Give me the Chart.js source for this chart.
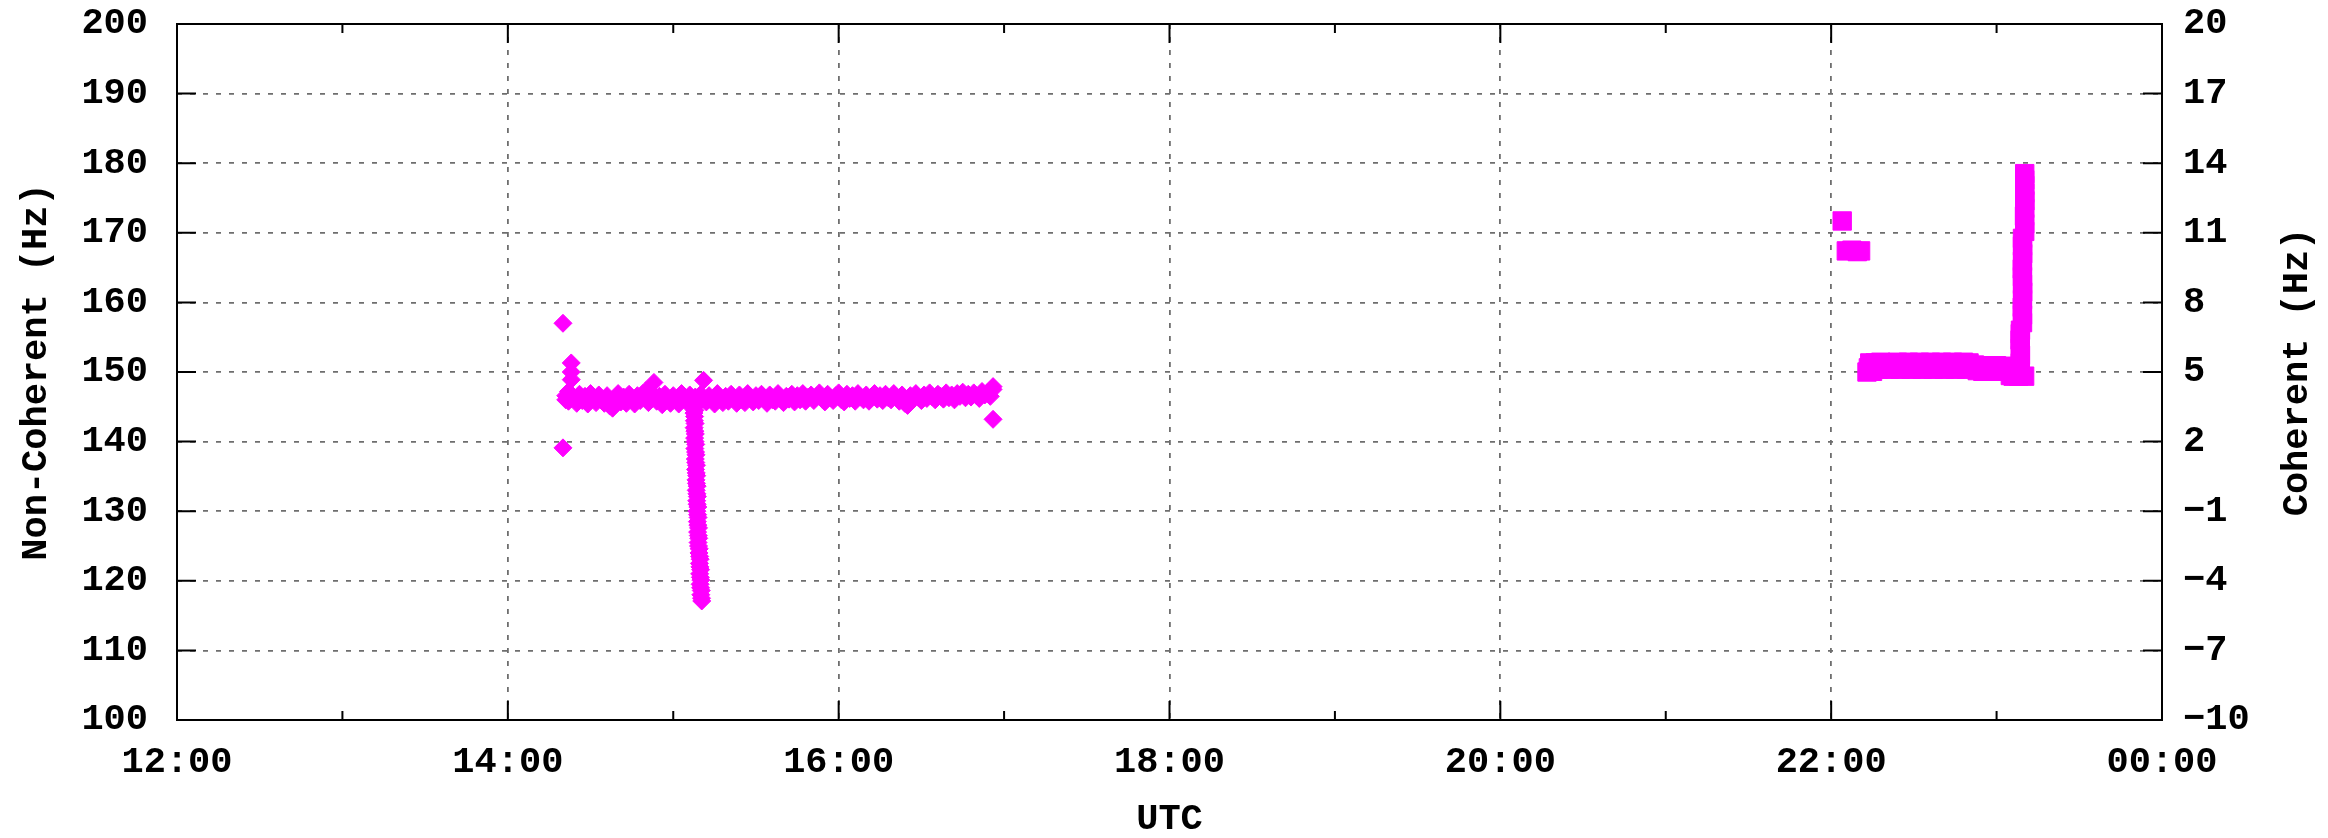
<!DOCTYPE html>
<html>
<head>
<meta charset="utf-8">
<title>Non-Coherent / Coherent Doppler</title>
<script src="https://cdn.jsdelivr.net/npm/chart.js@4.4.1/dist/chart.umd.min.js"></script>
<style>
  html, body { margin: 0; padding: 0; background: #ffffff; }
  canvas { display: block; }
</style>
</head>
<body>
<canvas id="doppler" width="2328" height="838"></canvas>
<script>
    "use strict";

    // Pass 1 (afternoon): UTC times and frequency in Hz
    var passOneTime = [
        "14:20", "14:20", "14:21", "14:21", "14:22", "14:22", "14:23", "14:23", "14:23", "14:23",
        "14:53", "15:11", "16:56", "16:56",
        "14:24", "14:25", "14:26", "14:27", "14:28", "14:29", "14:30", "14:31", "14:32", "14:33",
        "14:34", "14:35", "14:36", "14:37", "14:38", "14:39", "14:40", "14:41", "14:42", "14:43",
        "14:44", "14:45", "14:46", "14:47", "14:48", "14:49", "14:50", "14:51", "14:52", "14:53",
        "14:54", "14:55", "14:56", "14:57", "14:58", "14:59", "15:00", "15:01", "15:02", "15:03",
        "15:04", "15:05", "15:06", "15:07", "15:08", "15:09", "15:10", "15:11", "15:12", "15:13",
        "15:14", "15:15", "15:16", "15:17", "15:18", "15:19", "15:20", "15:21", "15:22", "15:23",
        "15:24", "15:25", "15:26", "15:27", "15:28", "15:29", "15:30", "15:31", "15:32", "15:33",
        "15:34", "15:35", "15:36", "15:37", "15:38", "15:39", "15:40", "15:41", "15:42", "15:43",
        "15:44", "15:45", "15:46", "15:47", "15:48", "15:49", "15:50", "15:51", "15:52", "15:53",
        "15:54", "15:55", "15:56", "15:57", "15:58", "15:59", "16:00", "16:01", "16:02", "16:03",
        "16:04", "16:05", "16:06", "16:07", "16:08", "16:09", "16:10", "16:11", "16:12", "16:13",
        "16:14", "16:15", "16:16", "16:17", "16:18", "16:19", "16:20", "16:21", "16:22", "16:23",
        "16:24", "16:25", "16:26", "16:27", "16:28", "16:29", "16:30", "16:31", "16:32", "16:33",
        "16:34", "16:35", "16:36", "16:37", "16:38", "16:39", "16:40", "16:41", "16:42", "16:43",
        "16:44", "16:45", "16:46", "16:47", "16:48", "16:49", "16:50", "16:51", "16:52", "16:53",
        "16:54", "16:55", "16:56",
        // the drop just after 15:07
        "15:07:35", "15:07:50", "15:07:30", "15:07:45", "15:07:40", "15:07:55", "15:07:35", "15:07:50",
        "15:08:00", "15:07:45", "15:07:55", "15:08:10", "15:07:50", "15:08:05", "15:08:15", "15:08:00",
        "15:08:10", "15:08:25", "15:08:05", "15:08:20", "15:08:30", "15:08:15", "15:08:25", "15:08:40",
        "15:08:20", "15:08:35", "15:08:45", "15:08:30", "15:08:40", "15:08:55", "15:08:35", "15:08:50",
        "15:09:00", "15:08:45", "15:08:55", "15:09:10", "15:08:50", "15:09:05", "15:09:15", "15:09:00",
        "15:09:10", "15:09:25", "15:09:20", "15:09:35", "15:09:45", "15:09:30", "15:09:40", "15:09:55",
        "15:09:35", "15:09:50", "15:10:00", "15:09:45", "15:09:55", "15:10:10", "15:10:00", "15:10:15",
        "15:10:20"
    ];
    var passOneHz = [
        157.0, 139.1, 146.0, 146.6, 145.8, 147.2, 148.9, 150.0, 151.3, 146.2,
        148.5, 148.8, 143.2, 147.9,
        146.3, 145.5, 146.8, 145.9, 146.5, 145.4, 146.9, 146.1, 145.6, 146.7,
        146.0, 145.5, 146.6, 145.1, 144.8, 146.2, 146.9, 145.7, 146.4, 145.5,
        146.8, 146.0, 145.4, 146.6, 145.9, 146.9, 147.3, 145.6, 146.2, 146.7,
        145.8, 146.5, 145.3, 146.8, 146.1, 145.5, 146.6, 146.0, 145.4, 146.9,
        146.2, 145.6, 146.7, 145.9, 146.4, 145.5, 146.8, 146.1, 145.7, 146.6,
        146.0, 145.4, 146.9, 146.2, 145.6, 146.5, 145.8, 146.8, 146.1, 145.5,
        146.7, 146.0, 145.6, 146.9, 146.3, 145.7, 146.6, 145.9, 146.8, 146.2,
        145.5, 146.7, 146.0, 145.8, 146.9, 146.3, 145.6, 146.5, 146.1, 146.8,
        145.7, 146.6, 146.0, 146.9, 145.8, 146.4, 146.7, 145.9, 146.5, 147.0,
        146.1, 145.7, 146.8, 146.3, 145.9, 146.6, 147.0, 146.0, 145.7, 146.8,
        146.2, 146.6, 145.8, 146.9, 146.4, 146.0, 146.7, 145.8, 146.5, 146.9,
        146.1, 146.6, 145.9, 146.8, 146.3, 146.0, 146.9, 146.4, 145.8, 146.7,
        145.5, 145.2, 146.6, 146.1, 146.9, 146.3, 145.9, 146.7, 146.2, 147.0,
        146.4, 146.0, 146.8, 146.5, 146.1, 147.0, 146.3, 146.7, 146.0, 146.9,
        146.5, 147.1, 146.3, 146.8, 146.4, 147.0, 146.6, 146.2, 147.2, 146.7,
        147.0, 146.5, 147.5,
        145.0, 144.5, 144.1, 143.6, 143.0, 142.6, 142.0, 141.5,
        141.1, 140.5, 140.0, 139.6, 139.0, 138.5, 138.1, 137.5,
        137.0, 136.6, 136.0, 135.5, 135.1, 134.5, 134.0, 133.6,
        133.0, 132.5, 132.1, 131.5, 131.0, 130.6, 130.0, 129.5,
        129.1, 128.5, 128.0, 127.6, 127.0, 126.5, 126.1, 125.5,
        125.0, 124.6, 124.0, 123.5, 123.1, 122.5, 122.0, 121.6,
        121.0, 120.5, 120.1, 119.5, 119.0, 118.6, 118.0, 117.5,
        117.1
    ];

    // Pass 2 (evening)
    var passTwoTime = [
        "22:04", "22:05:30", "22:07:30", "22:09:30", "22:10:40",
        "22:13", "22:13:30", "22:14", "22:15", "22:16", "22:17", "22:18", "22:19", "22:20",
        "22:21", "22:22", "22:23", "22:24", "22:25", "22:26", "22:27", "22:28",
        "22:29", "22:30", "22:31", "22:32", "22:33", "22:34", "22:35", "22:36",
        "22:37", "22:38", "22:39", "22:40", "22:41", "22:42", "22:43", "22:44",
        "22:45", "22:46", "22:47", "22:48", "22:49", "22:50", "22:51", "22:52",
        "22:53", "22:54", "22:55", "22:56", "22:57", "22:58", "22:59", "23:00",
        "23:01", "23:02", "23:03", "23:04", "23:05", "23:06", "23:07", "23:08",
        "23:08:36", "23:08:36", "23:08:40", "23:08:36", "23:08:32", "23:08:36", "23:08:40",
        "23:09:24", "23:09:24", "23:09:20", "23:09:24", "23:09:28", "23:09:24",
        "23:09:24", "23:09:20", "23:09:24", "23:09:28", "23:09:24", "23:09:24",
        "23:10:12", "23:10:12", "23:10:08", "23:10:12", "23:10:16", "23:10:12",
        "23:10:12", "23:10:12", "23:10:12", "23:10:10"
    ];
    var passTwoHz = [
        171.7, 167.4, 167.5, 167.3, 167.4,
        150.0, 150.6, 151.3, 150.1, 151.3, 150.4, 151.4, 150.5, 151.3,
        150.4, 151.3, 150.5, 151.4, 150.4, 151.3, 150.5, 151.4,
        150.4, 151.3, 150.5, 151.4, 150.4, 151.3, 150.5, 151.4,
        150.4, 151.3, 150.5, 151.4, 150.4, 151.3, 150.5, 151.4,
        150.4, 151.3, 150.5, 151.4, 150.4, 151.3, 150.5, 151.0,
        150.2, 150.9, 150.1, 150.9, 150.2, 150.8, 150.1, 150.9,
        150.2, 150.8, 150.1, 150.8, 149.5, 149.4, 149.5, 149.4,
        150.2, 151.3, 152.4, 153.4, 154.6, 155.5, 156.0,
        157.1, 158.2, 159.3, 160.4, 161.5, 162.6,
        163.7, 164.8, 165.9, 167.0, 168.1, 169.2,
        170.2, 171.3, 172.4, 173.5, 174.6, 175.7,
        176.8, 177.6, 178.5, 149.4
    ];

    // Axis tick values
    var leftTicks = [100, 110, 120, 130, 140, 150, 160, 170, 180, 190, 200];
    var rightTicks = [-10, -7, -4, -1, 2, 5, 8, 11, 14, 17, 20];
    var hourTicks = [12, 14, 16, 18, 20, 22, 24];

    function toHours(t) {
        var p = t.split(":").map(Number);
        return p[0] + p[1] / 60 + (p[2] || 0) / 3600;
    }

    function toPoints(times, values) {
        return times.map(function (t, i) {
            return {x: toHours(t), y: values[i]};
        });
    }

    var FONT = "'Liberation Mono', 'DejaVu Sans Mono', monospace";
    var FONT_SIZE = 37;
    var MAGENTA = "#ff00ff";

    // no extra label padding around the plot box, the sizes are set by hand
    function noPadding(scale) {
        scale.paddingTop = 0;
        scale.paddingBottom = 0;
        scale.paddingLeft = 0;
        scale.paddingRight = 0;
    }

    // Frame, inward tick marks and the right-hand title (reads bottom to top)
    var framePlugin = {
        id: "frame",
        beforeDatasetsDraw: function (chart) {
            var ctx = chart.ctx, a = chart.chartArea;
            var sx = chart.scales.x, sy = chart.scales.y;
            ctx.save();
            ctx.strokeStyle = "#000000";
            ctx.lineWidth = 2;
            ctx.beginPath();
            for (var h = 13; h < 24; h++) {
                var px = sx.getPixelForValue(h);
                var len = (h % 2 === 0) ? 19 : 9;
                ctx.moveTo(px, a.bottom); ctx.lineTo(px, a.bottom - len);
                ctx.moveTo(px, a.top); ctx.lineTo(px, a.top + len);
            }
            leftTicks.forEach(function (v) {
                var py = sy.getPixelForValue(v);
                ctx.moveTo(a.left, py); ctx.lineTo(a.left + 19, py);
                ctx.moveTo(a.right, py); ctx.lineTo(a.right - 19, py);
            });
            ctx.stroke();
            ctx.strokeRect(a.left, a.top, a.right - a.left, a.bottom - a.top);
            ctx.restore();
        },
        afterDraw: function (chart) {
            var ctx = chart.ctx, a = chart.chartArea;
            ctx.save();
            ctx.translate(chart.width - 30, (a.top + a.bottom) / 2);
            ctx.rotate(-Math.PI / 2);
            ctx.font = "bold " + FONT_SIZE + "px " + FONT;
            ctx.fillStyle = "#000000";
            ctx.textAlign = "center";
            ctx.textBaseline = "middle";
            ctx.fillText("Coherent (Hz)", 0, 0);
            ctx.restore();
        }
    };

    var tickFont = {family: FONT, size: FONT_SIZE, weight: "bold"};
    var titleFont = {family: FONT, size: FONT_SIZE, weight: "bold", lineHeight: 1};

    var ctx = document.getElementById("doppler").getContext("2d");
    var dopplerChart = new Chart(ctx, {
        type: "scatter",
        data: {
            datasets: [{
                    label: "Pass 1",
                    data: toPoints(passOneTime, passOneHz),
                    pointStyle: "rectRot",
                    pointRadius: 9,
                    borderWidth: 1,
                    backgroundColor: MAGENTA,
                    borderColor: MAGENTA,
                    yAxisID: "y"
                },
                {
                    label: "Pass 2",
                    data: toPoints(passTwoTime, passTwoHz),
                    pointStyle: "rect",
                    pointRadius: 13,
                    borderWidth: 1,
                    backgroundColor: MAGENTA,
                    borderColor: MAGENTA,
                    yAxisID: "y"
                }
            ]
        },
        options: {
            responsive: false,
            animation: false,
            devicePixelRatio: 1,
            layout: {padding: {top: 24, left: 0, right: 0, bottom: 0}},
            plugins: {
                legend: {display: false},
                tooltip: {enabled: false}
            },
            scales: {
                x: {
                    type: "linear",
                    min: 12,
                    max: 24,
                    afterBuildTicks: function (scale) {
                        scale.ticks = hourTicks.map(function (v) { return {value: v}; });
                    },
                    afterFit: function (scale) { scale.height = 118; noPadding(scale); },
                    ticks: {
                        color: "#000000",
                        padding: 20,
                        maxRotation: 0,
                        font: tickFont,
                        callback: function (v) {
                            var h = v % 24;
                            return (h < 10 ? "0" : "") + h + ":00";
                        }
                    },
                    grid: {color: "#6e6e6e", lineWidth: 1.8, drawTicks: false},
                    border: {display: false, dash: [5, 8]},
                    title: {
                        display: true,
                        text: "UTC",
                        color: "#000000",
                        padding: {top: 0, bottom: 0},
                        font: titleFont
                    }
                },
                y: {
                    position: "left",
                    min: 100,
                    max: 200,
                    afterBuildTicks: function (scale) {
                        scale.ticks = leftTicks.map(function (v) { return {value: v}; });
                    },
                    afterFit: function (scale) { scale.width = 177; noPadding(scale); },
                    ticks: {
                        color: "#000000",
                        padding: 29,
                        font: tickFont
                    },
                    grid: {color: "#6e6e6e", lineWidth: 1.8, drawTicks: false},
                    border: {display: false, dash: [5, 8]},
                    title: {
                        display: true,
                        text: "Non-Coherent (Hz)",
                        color: "#000000",
                        padding: {top: 18, bottom: 0},
                        font: titleFont
                    }
                },
                y2: {
                    position: "right",
                    min: -10,
                    max: 20,
                    afterBuildTicks: function (scale) {
                        scale.ticks = rightTicks.map(function (v) { return {value: v}; });
                    },
                    afterFit: function (scale) { scale.width = 166; noPadding(scale); },
                    ticks: {
                        color: "#000000",
                        padding: 21,
                        font: tickFont,
                        callback: function (v) {
                            return v < 0 ? "\u2212" + Math.abs(v) : String(v);
                        }
                    },
                    grid: {drawOnChartArea: false, drawTicks: false},
                    border: {display: false}
                }
            }
        },
        plugins: [framePlugin]
    });
</script>
</body>
</html>
